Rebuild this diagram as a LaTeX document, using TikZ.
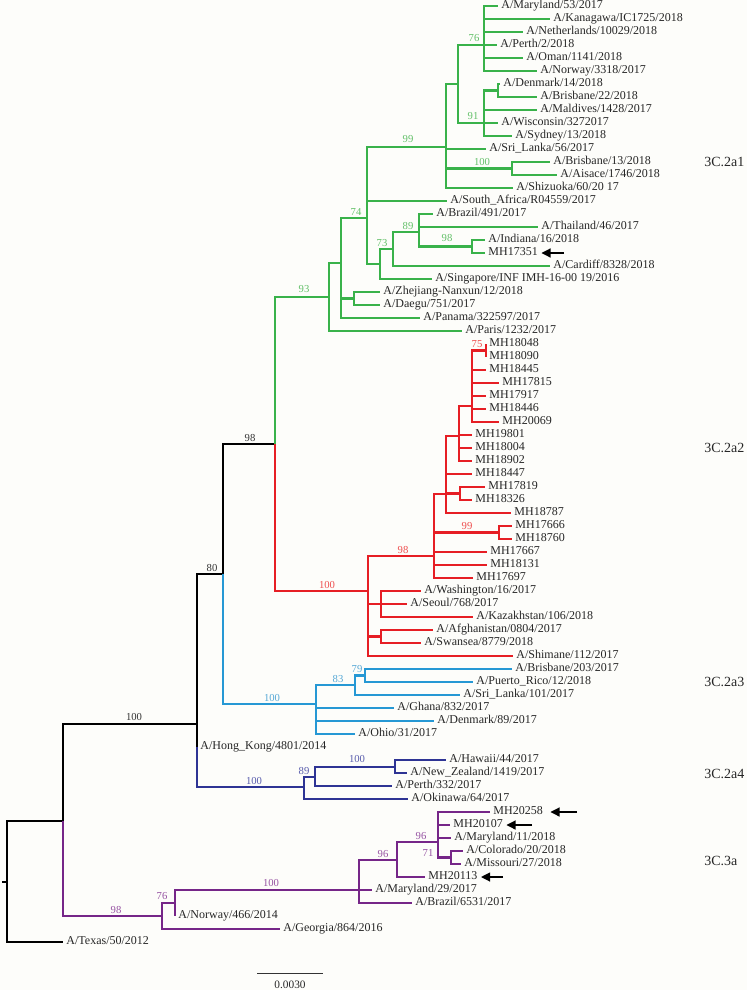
\documentclass[tikz,border=0pt]{standalone}
\usepackage{fontspec}
\setmainfont{Liberation Serif}
\usetikzlibrary{arrows.meta}
\definecolor{paper}{RGB}{253,253,250}
\definecolor{cgrn}{RGB}{57,178,74}
\definecolor{cred}{RGB}{230,30,36}
\definecolor{cblu}{RGB}{38,152,212}
\definecolor{cnvy}{RGB}{46,52,148}
\definecolor{cpur}{RGB}{118,38,136}
\definecolor{lgrn}{RGB}{98,192,104}
\definecolor{lred}{RGB}{238,78,78}
\definecolor{lblu}{RGB}{86,168,214}
\definecolor{lnvy}{RGB}{88,92,172}
\definecolor{lpur}{RGB}{150,82,162}

\begin{document}
\begin{tikzpicture}[x=0.75pt,y=-0.75pt,
  br/.style={line width=1.9pt},
  stem/.style={line width=1.35pt},
  tip/.style={anchor=west,inner xsep=2.4pt,inner ysep=0pt,text height=6.2pt,text depth=1.8pt,
    font=\fontsize{9}{10}\selectfont,text=black!85},
  bs/.style={inner sep=0pt,font=\fontsize{8}{9}\selectfont},
  clade/.style={anchor=west,inner sep=0pt,font=\fontsize{10.5}{12}\selectfont,text=black!85},
  pointer/.style={line width=2pt,-{Triangle[length=7pt,width=6.5pt]}}]
\path[use as bounding box,fill=paper] (0,0) rectangle (747,990);

% internal nodes
\coordinate (root) at (7,882);
\coordinate (stub) at (2,882);
\coordinate (a) at (63,821);
\coordinate (b) at (197,724);
\coordinate (c) at (223,574);
\coordinate (e) at (275,444);
\coordinate (g1) at (329,297);
\coordinate (g2) at (341,263);
\coordinate (g3) at (367,218);
\coordinate (g4) at (354,298.5);
\coordinate (g5) at (446,147);
\coordinate (g6) at (380,264);
\coordinate (g7) at (393,249);
\coordinate (g8) at (419,232);
\coordinate (g9) at (472,246.5);
\coordinate (g10) at (458,84);
\coordinate (g11) at (512,168.5);
\coordinate (g12) at (484,45);
\coordinate (g13) at (484,123);
\coordinate (g14) at (498,90.5);
\coordinate (r1) at (368,591);
\coordinate (r2) at (434,556);
\coordinate (r3) at (381,604);
\coordinate (r4) at (381,636.5);
\coordinate (r5) at (446,494);
\coordinate (r6) at (499,532.5);
\coordinate (r7) at (459,436);
\coordinate (r8) at (460,493.5);
\coordinate (r9) at (472,406);
\coordinate (r10) at (486,350.5);
\coordinate (bl1) at (316,704);
\coordinate (bl2) at (355,685);
\coordinate (bl3) at (365,675.5);
\coordinate (n1) at (304,787);
\coordinate (n2) at (315,777);
\coordinate (n3) at (395,767);
\coordinate (p1) at (162,916);
\coordinate (p2) at (175,903);
\coordinate (p3) at (359,890);
\coordinate (p4) at (397,860);
\coordinate (p5) at (438,842);
\coordinate (p6) at (451,857.5);

% 3C.2a1
\node[tip] (maryland53) at (498,6) {A/Maryland/53/2017};
\node[tip] (kanagawa) at (550,19) {A/Kanagawa/IC1725/2018};
\node[tip] (netherlands) at (523,32) {A/Netherlands/10029/2018};
\node[tip] (perth2) at (497,45) {A/Perth/2/2018};
\node[tip] (oman) at (523,58) {A/Oman/1141/2018};
\node[tip] (norway3318) at (537,71) {A/Norway/3318/2017};
\node[tip] (denmark14) at (500,84) {A/Denmark/14/2018};
\node[tip] (brisbane22) at (537,97) {A/Brisbane/22/2018};
\node[tip] (maldives) at (537,110) {A/Maldives/1428/2017};
\node[tip] (wisconsin) at (498,123) {A/Wisconsin/3272017};
\node[tip] (sydney) at (512,136) {A/Sydney/13/2018};
\node[tip] (srilanka56) at (486,149) {A/Sri\_Lanka/56/2017};
\node[tip] (brisbane13) at (550,162) {A/Brisbane/13/2018};
\node[tip] (aisace) at (557,175) {A/Aisace/1746/2018};
\node[tip] (shizuoka) at (513,188) {A/Shizuoka/60/20 17};
\node[tip] (southafrica) at (447,201) {A/South\_Africa/R04559/2017};
\node[tip] (brazil491) at (433,214) {A/Brazil/491/2017};
\node[tip] (thailand) at (538,227) {A/Thailand/46/2017};
\node[tip] (indiana) at (485,240) {A/Indiana/16/2018};
\node[tip] (mh17351) at (485,253) {MH17351};
\node[tip] (cardiff) at (550,266) {A/Cardiff/8328/2018};
\node[tip] (singapore) at (432,279) {A/Singapore/INF IMH-16-00 19/2016};
\node[tip] (zhejiang) at (380,292) {A/Zhejiang-Nanxun/12/2018};
\node[tip] (daegu) at (380,305) {A/Daegu/751/2017};
\node[tip] (panama) at (420,318) {A/Panama/322597/2017};
\node[tip] (paris) at (462,331) {A/Paris/1232/2017};

% 3C.2a2
\node[tip] (mh18048) at (486,344) {MH18048};
\node[tip] (mh18090) at (486,357) {MH18090};
\node[tip] (mh18445) at (486,370) {MH18445};
\node[tip] (mh17815) at (499,383) {MH17815};
\node[tip] (mh17917) at (486,396) {MH17917};
\node[tip] (mh18446) at (486,409) {MH18446};
\node[tip] (mh20069) at (499,422) {MH20069};
\node[tip] (mh19801) at (472,435) {MH19801};
\node[tip] (mh18004) at (472,448) {MH18004};
\node[tip] (mh18902) at (472,461) {MH18902};
\node[tip] (mh18447) at (472,474) {MH18447};
\node[tip] (mh17819) at (485,487) {MH17819};
\node[tip] (mh18326) at (472,500) {MH18326};
\node[tip] (mh18787) at (511,513) {MH18787};
\node[tip] (mh17666) at (512,526) {MH17666};
\node[tip] (mh18760) at (512,539) {MH18760};
\node[tip] (mh17667) at (487,552) {MH17667};
\node[tip] (mh18131) at (487,565) {MH18131};
\node[tip] (mh17697) at (473,578) {MH17697};
\node[tip] (washington) at (421,591) {A/Washington/16/2017};
\node[tip] (seoul) at (407,604) {A/Seoul/768/2017};
\node[tip] (kazakhstan) at (473,617) {A/Kazakhstan/106/2018};
\node[tip] (afghanistan) at (433,630) {A/Afghanistan/0804/2017};
\node[tip] (swansea) at (421,643) {A/Swansea/8779/2018};
\node[tip] (shimane) at (513,656) {A/Shimane/112/2017};

% 3C.2a3
\node[tip] (brisbane203) at (512,669) {A/Brisbane/203/2017};
\node[tip] (puertorico) at (473,682) {A/Puerto\_Rico/12/2018};
\node[tip] (srilanka101) at (460,695) {A/Sri\_Lanka/101/2017};
\node[tip] (ghana) at (394,708) {A/Ghana/832/2017};
\node[tip] (denmark89) at (434,721) {A/Denmark/89/2017};
\node[tip] (ohio) at (355,734) {A/Ohio/31/2017};
\node[tip] (hongkong) at (197,747) {A/Hong\_Kong/4801/2014};

% 3C.2a4
\node[tip] (hawaii) at (446,760) {A/Hawaii/44/2017};
\node[tip] (newzealand) at (407,773) {A/New\_Zealand/1419/2017};
\node[tip] (perth332) at (392,786) {A/Perth/332/2017};
\node[tip] (okinawa) at (408,799) {A/Okinawa/64/2017};

% 3C.3a
\node[tip] (mh20258) at (490,812) {MH20258};
\node[tip] (mh20107) at (450,825) {MH20107};
\node[tip] (maryland11) at (451,838) {A/Maryland/11/2018};
\node[tip] (colorado) at (463,851) {A/Colorado/20/2018};
\node[tip] (missouri) at (461,864) {A/Missouri/27/2018};
\node[tip] (mh20113) at (425,877) {MH20113};
\node[tip] (maryland29) at (372,890) {A/Maryland/29/2017};
\node[tip] (brazil6531) at (412,903) {A/Brazil/6531/2017};
\node[tip] (norway466) at (175,916) {A/Norway/466/2014};
\node[tip] (georgia) at (280,929) {A/Georgia/864/2016};
\node[tip] (texas) at (63,942) {A/Texas/50/2012};

% backbone
\draw[stem] (root) -- (stub);
\draw[stem] (root) |- (a);
\draw[stem] (root) |- (texas);
\draw[stem] (a) |- (b);
\draw[stem] (b) |- (c);
\draw[stem] (b) |- (hongkong);
\draw[stem] (c) |- (e);
\draw[stem,cgrn] (e) |- (g1);
\draw[stem,cred] (e) |- (r1);
\draw[stem,cblu] (c) |- (bl1);
\draw[stem,cnvy] (hongkong.west) |- (n1);
\draw[stem,cpur] (a) |- (p1);

% green
\draw[br,cgrn] (g1) |- (g2);
\draw[br,cgrn] (g1) |- (paris);
\draw[br,cgrn] (g2) |- (g3);
\draw[br,cgrn] (g2) |- (g4);
\draw[br,cgrn] (g2) |- (panama);
\draw[br,cgrn] (g4) |- (zhejiang);
\draw[br,cgrn] (g4) |- (daegu);
\draw[br,cgrn] (g3) |- (g5);
\draw[br,cgrn] (g3) |- (southafrica);
\draw[br,cgrn] (g3) |- (g6);
\draw[br,cgrn] (g6) |- (g7);
\draw[br,cgrn] (g6) |- (singapore);
\draw[br,cgrn] (g7) |- (g8);
\draw[br,cgrn] (g7) |- (cardiff);
\draw[br,cgrn] (g8) |- (brazil491);
\draw[br,cgrn] (g8) |- (thailand);
\draw[br,cgrn] (g8) |- (g9);
\draw[br,cgrn] (g9) |- (indiana);
\draw[br,cgrn] (g9) |- (mh17351);
\draw[br,cgrn] (g5) |- (g10);
\draw[br,cgrn] (g5) |- (srilanka56);
\draw[br,cgrn] (g5) |- (g11);
\draw[br,cgrn] (g5) |- (shizuoka);
\draw[br,cgrn] (g11) |- (brisbane13);
\draw[br,cgrn] (g11) |- (aisace);
\draw[br,cgrn] (g10) |- (g12);
\draw[br,cgrn] (g10) |- (g13);
\draw[br,cgrn] (g12) |- (maryland53);
\draw[br,cgrn] (g12) |- (kanagawa);
\draw[br,cgrn] (g12) |- (netherlands);
\draw[br,cgrn] (g12) |- (perth2);
\draw[br,cgrn] (g12) |- (oman);
\draw[br,cgrn] (g12) |- (norway3318);
\draw[br,cgrn] (g13) |- (g14);
\draw[br,cgrn] (g13) |- (maldives);
\draw[br,cgrn] (g13) |- (wisconsin);
\draw[br,cgrn] (g13) |- (sydney);
\draw[br,cgrn] (g14) |- (denmark14);
\draw[br,cgrn] (g14) |- (brisbane22);

% red
\draw[br,cred] (r1) |- (r2);
\draw[br,cred] (r1) |- (r3);
\draw[br,cred] (r1) |- (r4);
\draw[br,cred] (r1) |- (shimane);
\draw[br,cred] (r3) |- (washington);
\draw[br,cred] (r3) |- (seoul);
\draw[br,cred] (r3) |- (kazakhstan);
\draw[br,cred] (r4) |- (afghanistan);
\draw[br,cred] (r4) |- (swansea);
\draw[br,cred] (r2) |- (r5);
\draw[br,cred] (r2) |- (r6);
\draw[br,cred] (r2) |- (mh17667);
\draw[br,cred] (r2) |- (mh18131);
\draw[br,cred] (r2) |- (mh17697);
\draw[br,cred] (r6) |- (mh17666);
\draw[br,cred] (r6) |- (mh18760);
\draw[br,cred] (r5) |- (r7);
\draw[br,cred] (r5) |- (mh18447);
\draw[br,cred] (r5) |- (r8);
\draw[br,cred] (r5) |- (mh18787);
\draw[br,cred] (r8) |- (mh17819);
\draw[br,cred] (r8) |- (mh18326);
\draw[br,cred] (r7) |- (r9);
\draw[br,cred] (r7) |- (mh19801);
\draw[br,cred] (r7) |- (mh18004);
\draw[br,cred] (r7) |- (mh18902);
\draw[br,cred] (r9) |- (r10);
\draw[br,cred] (r9) |- (mh18445);
\draw[br,cred] (r9) |- (mh17815);
\draw[br,cred] (r9) |- (mh17917);
\draw[br,cred] (r9) |- (mh18446);
\draw[br,cred] (r9) |- (mh20069);
\draw[br,cred] (r10) |- (mh18048);
\draw[br,cred] (r10) |- (mh18090);

% light blue
\draw[br,cblu] (bl1) |- (bl2);
\draw[br,cblu] (bl1) |- (ghana);
\draw[br,cblu] (bl1) |- (denmark89);
\draw[br,cblu] (bl1) |- (ohio);
\draw[br,cblu] (bl2) |- (bl3);
\draw[br,cblu] (bl2) |- (srilanka101);
\draw[br,cblu] (bl3) |- (brisbane203);
\draw[br,cblu] (bl3) |- (puertorico);

% navy
\draw[br,cnvy] (n1) |- (n2);
\draw[br,cnvy] (n1) |- (okinawa);
\draw[br,cnvy] (n2) |- (n3);
\draw[br,cnvy] (n2) |- (perth332);
\draw[br,cnvy] (n3) |- (hawaii);
\draw[br,cnvy] (n3) |- (newzealand);

% purple
\draw[br,cpur] (p1) |- (p2);
\draw[br,cpur] (p1) |- (georgia);
\draw[br,cpur] (p2) |- (p3);
\draw[br,cpur] (p2) |- (norway466);
\draw[br,cpur] (p3) |- (p4);
\draw[br,cpur] (p3) |- (maryland29);
\draw[br,cpur] (p3) |- (brazil6531);
\draw[br,cpur] (p4) |- (p5);
\draw[br,cpur] (p4) |- (mh20113);
\draw[br,cpur] (p5) |- (mh20258);
\draw[br,cpur] (p5) |- (mh20107);
\draw[br,cpur] (p5) |- (maryland11);
\draw[br,cpur] (p5) |- (p6);
\draw[br,cpur] (p6) |- (colorado);
\draw[br,cpur] (p6) |- (missouri);

% bootstrap values
\node[bs,text=black!80] (bs98k) at (250,438) {98};
\node[bs,text=black!80] (bs80k) at (212,568) {80};
\node[bs,text=black!80] (bs100k) at (134,717) {100};
\node[bs,text=lgrn] (bs93g) at (304,289) {93};
\node[bs,text=lgrn] (bs74g) at (356,212) {74};
\node[bs,text=lgrn] (bs99g) at (408,139) {99};
\node[bs,text=lgrn] (bs73g) at (382,243) {73};
\node[bs,text=lgrn] (bs89g) at (408,226) {89};
\node[bs,text=lgrn] (bs98g) at (447,238) {98};
\node[bs,text=lgrn] (bs100g) at (482,162) {100};
\node[bs,text=lgrn] (bs76g) at (474,38) {76};
\node[bs,text=lgrn] (bs91g) at (473,116) {91};
\node[bs,text=lred] (bs100r) at (327,585) {100};
\node[bs,text=lred] (bs98r) at (403,550) {98};
\node[bs,text=lred] (bs99r) at (467,526) {99};
\node[bs,text=lred] (bs75r) at (477,344) {75};
\node[bs,text=lblu] (bs100b) at (272,698) {100};
\node[bs,text=lblu] (bs83b) at (338,679) {83};
\node[bs,text=lblu] (bs79b) at (357,669) {79};
\node[bs,text=lnvy] (bs100n) at (254,781) {100};
\node[bs,text=lnvy] (bs89n) at (304,771) {89};
\node[bs,text=lnvy] (bs100m) at (357,759) {100};
\node[bs,text=lpur] (bs98p) at (116,910) {98};
\node[bs,text=lpur] (bs76p) at (162,896) {76};
\node[bs,text=lpur] (bs100p) at (271,883) {100};
\node[bs,text=lpur] (bs96p) at (383,854) {96};
\node[bs,text=lpur] (bs96q) at (421,836) {96};
\node[bs,text=lpur] (bs71p) at (428,853) {71};

% clades
\node[clade] (c2a1) at (704,162) {3C.2a1};
\node[clade] (c2a2) at (704,448) {3C.2a2};
\node[clade] (c2a3) at (704,682) {3C.2a3};
\node[clade] (c2a4) at (704,774) {3C.2a4};
\node[clade] (c3a) at (704,861) {3C.3a};

% study samples
\coordinate (t17351) at (564,253);
\coordinate (t20258) at (577,812);
\coordinate (t20107) at (532,825);
\coordinate (t20113) at (503,877);
\draw[pointer] (t17351) -- (mh17351);
\draw[pointer,shorten >=3pt] (t20258) -- (mh20258);
\draw[pointer] (t20107) -- (mh20107);
\draw[pointer] (t20113) -- (mh20113);

% scale
\coordinate (sbl) at (257,973);
\coordinate (sbr) at (323,973);
\draw[line width=0.7pt,black!80] (sbl) -- (sbr);
\node[bs,font=\fontsize{8.5}{10}\selectfont,text=black!85] (sbtext) at (290,985) {0.0030};
\end{tikzpicture}
\end{document}
